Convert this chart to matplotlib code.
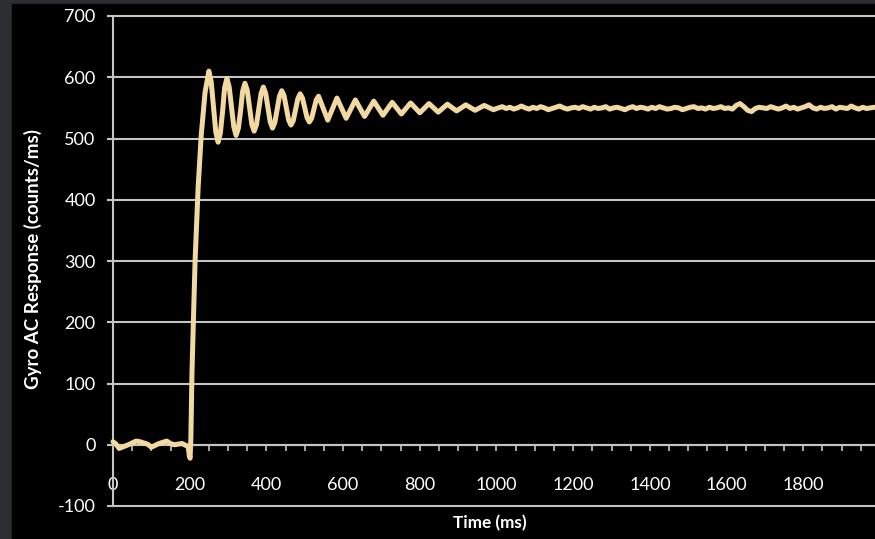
import numpy as np
import matplotlib
matplotlib.use("Agg")
import matplotlib.pyplot as plt
from matplotlib.patches import Rectangle

# --- data (time in ms, response in counts/ms) ---
baseline_t = [0, 8, 16, 24, 32, 40, 50, 60, 70, 80, 90, 100, 110, 120,
              130, 140, 150, 160, 170, 180, 190, 196]
baseline_v = [5, 1, -6, -4, -2, 0, 3, 6, 5, 3, 1, -4, -1, 2,
              4, 6, 2, 0, 1, 2, -1, -3]

step_t = [199, 201, 203, 206, 214, 222, 230, 240]
step_v = [-18, -22, 10, 120, 300, 420, 505, 575]

# large ringing, sampled finely enough to keep the rounded crests
ring_t = [250, 256, 262, 268, 274, 280, 286, 291, 297, 303, 309, 315,
          321, 327, 333, 338, 344, 350, 356, 362, 368, 374, 380, 386,
          392, 398, 404, 410, 416, 422, 428, 434, 440, 446, 452, 458,
          464, 470, 476, 482, 488, 494, 500, 506, 512, 518, 524, 530]
ring_v = [610, 593, 552, 511, 494, 509, 546, 583, 598, 584, 551, 519,
          505, 517, 547, 577, 590, 579, 551, 523, 512, 522, 548, 573,
          584, 574, 550, 527, 517, 526, 547, 569, 578, 570, 550, 530,
          522, 529, 547, 565, 573, 566, 550, 534, 527, 533, 548, 563]

# small ringing, crests and troughs only
decay_t = [536, 560, 584, 608, 632, 656, 680, 704, 728, 752, 776, 800,
           824, 848, 872, 896, 920, 944, 968, 992]
decay_v = [569, 530, 566, 533, 563, 536, 561, 538, 559, 540, 558, 542,
           557, 543, 556, 545, 555, 546, 554, 547]

settle_t = list(range(1005, 1990, 10))
settle_v = [550, 552, 549, 551, 548, 550, 553, 550, 548, 551,
            549, 552, 550, 547, 549, 551, 553, 550, 548, 550,
            551, 549, 552, 550, 548, 551, 549, 550, 552, 548,
            550, 551, 549, 547, 550, 552, 549, 551, 550, 548,
            551, 549, 552, 550, 548, 549, 551, 550, 547, 549,
            551, 552, 549, 550, 548, 551, 549, 550, 552, 549,
            550, 548, 554, 557, 552, 546, 544, 549, 551, 550,
            549, 552, 550, 548, 550, 553, 549, 551, 548, 550,
            552, 555, 550, 548, 551, 549, 550, 552, 548, 551,
            550, 549, 553, 550, 548, 551, 549, 550, 551]

y_ticks = [-100, 0, 100, 200, 300, 400, 500, 600, 700]
x_labels = [0, 200, 400, 600, 800, 1000, 1200, 1400, 1600, 1800]

t = baseline_t + step_t + ring_t + decay_t + settle_t
v = baseline_v + step_v + ring_v + decay_v + settle_v

plt.rcParams['font.family'] = ['Lato', 'DejaVu Sans']
plt.rcParams['axes.unicode_minus'] = False

fig = plt.figure(figsize=(8.75, 5.39), dpi=100)
fig.patch.set_facecolor('#2b2d30')
# black panel behind everything
fig.patches.append(Rectangle((12 / 875, 0), 1, (539 - 4) / 539,
                             transform=fig.transFigure, color='black', zorder=-10))

ax = fig.add_axes([113 / 875, 33 / 539, 762 / 875, 490 / 539])
ax.set_facecolor('black')

grid_c = '#c4c4c4'
ax.plot(t, v, color='#f1d9a1', lw=3.6, solid_joinstyle='round',
        solid_capstyle='round', zorder=5, clip_on=False)

ax.set_ylim(-100, 700)
ax.set_xlim(0, 1987)
ax.set_yticks(y_ticks)
ax.grid(axis='y', color=grid_c, lw=1.5)
for gl in ax.get_ygridlines():
    gl.set_clip_on(False)

for s in ['top', 'right']:
    ax.spines[s].set_visible(False)
ax.spines['left'].set_color(grid_c)
ax.spines['left'].set_linewidth(1.5)
ax.spines['bottom'].set_position(('data', 0))
ax.spines['bottom'].set_color(grid_c)
ax.spines['bottom'].set_linewidth(1.5)

ax.set_xticks(x_labels)
ax.set_xticks(np.arange(50, 1987, 50), minor=True)
ax.tick_params(axis='x', which='both', direction='out', length=4.5,
               width=1.2, color=grid_c, pad=19, labelsize=13,
               labelcolor='white')
ax.tick_params(axis='x', which='minor', labelbottom=False)
ax.tick_params(axis='y', length=4.5, width=1.5, color=grid_c, pad=8,
               labelsize=13, labelcolor='white')

fig.text(33 / 875, 1 - 259 / 539, 'Gyro AC Response (counts/ms)',
         rotation=90, ha='center', va='center', color='white',
         fontsize=13.5, fontweight='bold')
fig.text(490 / 875, 1 - 523 / 539, 'Time (ms)', ha='center', va='center',
         color='white', fontsize=12.3, fontweight='bold')

fig.savefig('out.png', dpi=100, facecolor=fig.get_facecolor())
